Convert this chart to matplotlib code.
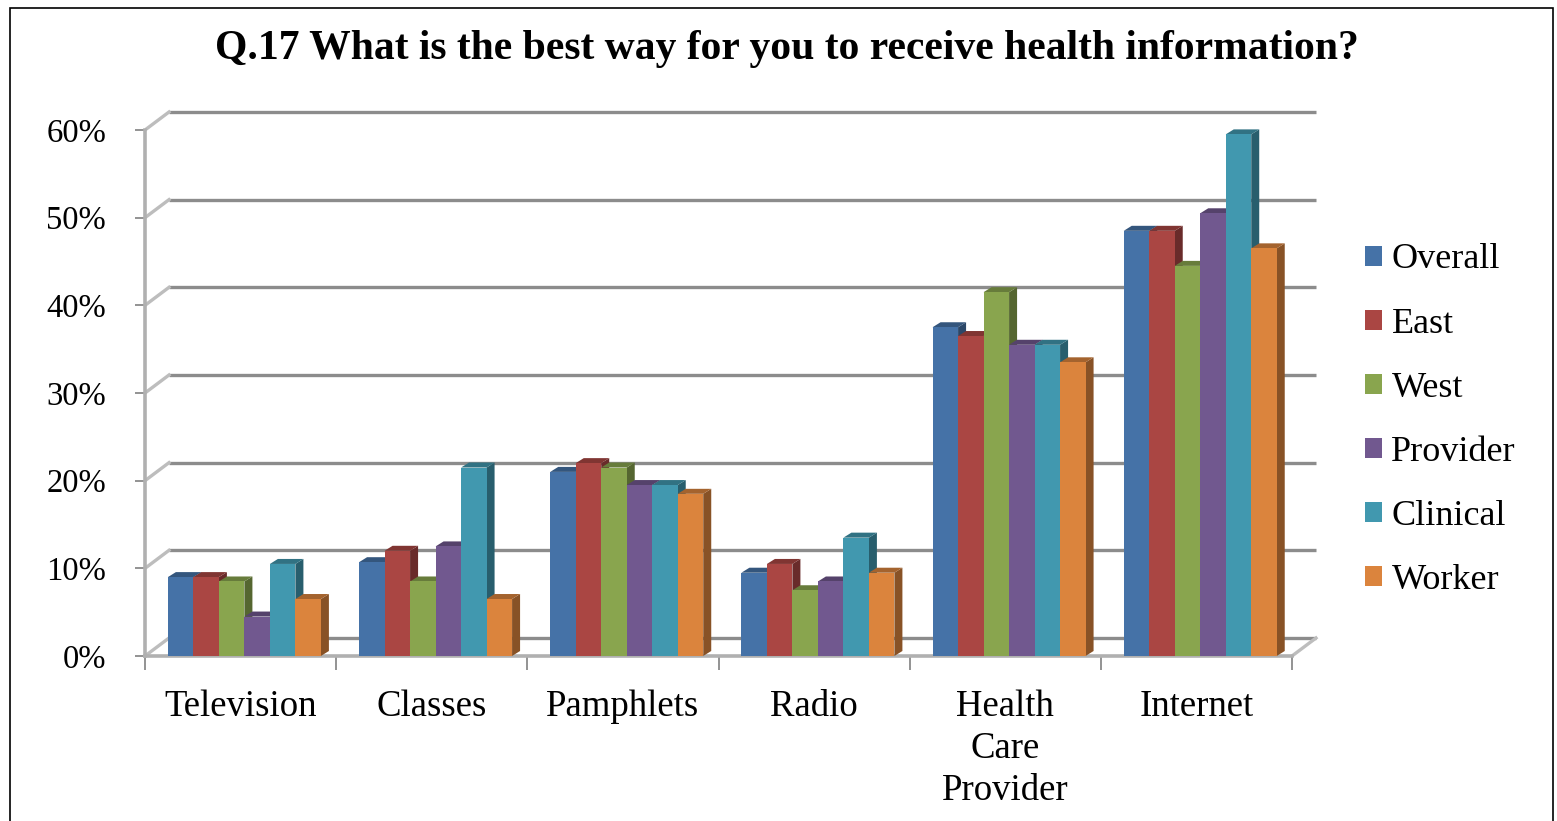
import matplotlib
matplotlib.use("Agg")
import matplotlib.pyplot as plt
from matplotlib.patches import Patch, Polygon, Rectangle
from matplotlib.colors import to_rgb
import numpy as np

# STEP 1: Data (percent of respondents)
categories = ["Television", "Classes", "Pamphlets", "Radio", "Health\nCare\nProvider", "Internet"]
series_names = ["Overall", "East", "West", "Provider", "Clinical", "Worker"]

overall = [9, 10.7, 21, 9.5, 37.5, 48.5]
east = [9, 12, 22, 10.5, 36.5, 48.5]
west = [8.5, 8.5, 21.5, 7.5, 41.5, 44.5]
provider = [4.5, 12.5, 19.5, 8.5, 35.5, 50.5]
clinical = [10.5, 21.5, 19.5, 13.5, 35.5, 59.5]
worker = [6.5, 6.5, 18.5, 9.5, 33.5, 46.5]

y_ticks = [0, 10, 20, 30, 40, 50, 60]
y_tick_labels = ["0%", "10%", "20%", "30%", "40%", "50%", "60%"]

all_series = [overall, east, west, provider, clinical, worker]
colors = ["#4572A7", "#AA4643", "#89A54E", "#71588F", "#4198AF", "#DB843D"]

plt.rcParams["font.family"] = ["Liberation Serif", "DejaVu Serif"]

# STEP 2: Figure and axes (pixel layout of the original)
W, H = 1557, 821
fig = plt.figure(figsize=(W / 100, H / 100), dpi=100)

px_per_cat = (1292 - 145) / 6.0
px_per_pct = (656 - 130) / 60.0
ax_left, ax_right, ax_top, ax_bottom = 145, 1330, 100, 665
ax = fig.add_axes([ax_left / W, (H - ax_bottom) / H,
                   (ax_right - ax_left) / W, (ax_bottom - ax_top) / H])
ax.set_xlim(-0.5, -0.5 + (ax_right - ax_left) / px_per_cat)
ax.set_ylim((656 - ax_bottom) / px_per_pct, (656 - ax_top) / px_per_pct)

# depth of the back wall and of the bars
DX, DY = 24 / px_per_cat, 18 / px_per_pct
bdx, bdy = 8 / px_per_cat, 5 / px_per_pct

# STEP 3: Walls and gridlines
for v in y_ticks:
    ax.plot([-0.5 + DX, 5.5 + DX], [v + DY, v + DY], color="#8c8c8c", lw=2.4,
            zorder=1, solid_capstyle="butt")
    ax.plot([-0.5, -0.5 + DX], [v, v + DY], color="#bdbdbd", lw=2.4, zorder=1)
ax.plot([5.5, 5.5 + DX], [0, DY], color="#bdbdbd", lw=2.4, zorder=1)

for s in ["top", "right"]:
    ax.spines[s].set_visible(False)
ax.spines["left"].set_bounds(0, 60)
ax.spines["left"].set_color("#b0b0b0")
ax.spines["left"].set_linewidth(2.6)
ax.spines["bottom"].set_position(("data", 0))
ax.spines["bottom"].set_bounds(-0.5, 5.5)
ax.spines["bottom"].set_color("#b0b0b0")
ax.spines["bottom"].set_linewidth(2.6)

ax.set_yticks(y_ticks)
ax.set_yticklabels(y_tick_labels, fontsize=23.5)
ax.tick_params(axis="y", length=7, width=1.2, color="#808080", pad=21)

x = np.arange(len(categories))
ax.set_xticks(np.arange(-0.5, 6, 1.0))
ax.set_xticklabels([])
ax.tick_params(axis="x", which="major", length=10, width=1.2, color="#808080")
ax.set_xticks(x, minor=True)
ax.set_xticklabels(categories, minor=True, fontsize=26.5, linespacing=1.28)
ax.tick_params(axis="x", which="minor", length=0, pad=24)

# STEP 4: 3D-looking clustered bars
bar_w = 25.5 / px_per_cat
start = -len(all_series) * bar_w / 2 + 0.02


def shade(c, f):
    r, g, b = to_rgb(c)
    return (r * f, g * f, b * f)


for j, (vals, col) in enumerate(zip(all_series, colors)):
    xs = x + start + j * bar_w
    z = 3 + j
    for xl, v in zip(xs, vals):
        side = Polygon([(xl + bar_w, 0), (xl + bar_w + bdx, bdy),
                        (xl + bar_w + bdx, v + bdy), (xl + bar_w, v)],
                       closed=True, facecolor=shade(col, 0.62), edgecolor="none", zorder=z - 0.5)
        top = Polygon([(xl, v), (xl + bdx, v + bdy), (xl + bar_w + bdx, v + bdy), (xl + bar_w, v)],
                      closed=True, facecolor=shade(col, 0.75), edgecolor="none", zorder=z - 0.5)
        ax.add_patch(side)
        ax.add_patch(top)
    ax.bar(xs, vals, width=bar_w, align="edge", color=col, edgecolor="none", zorder=z)

# STEP 5: Title, legend, border
fig.text(787 / W, 1 - 49 / H, "Q.17 What is the best way for you to receive health information?",
         ha="center", va="center", fontsize=30, fontweight="bold")

handles = [Patch(facecolor=c, edgecolor="none") for c in colors]
fig.legend(handles, series_names, loc="upper left", bbox_to_anchor=(1351 / W, 1 - 229 / H),
           frameon=False, fontsize=26, handlelength=0.47, handleheight=0.47,
           handletextpad=0.25, labelspacing=0.86, borderaxespad=0)

fig.patches.append(Rectangle((10 / W, -0.01), 1543 / W, 1 - 8 / H + 0.01,
                             transform=fig.transFigure, fill=False, edgecolor="black", lw=1.2))

plt.savefig("out.png", dpi=100)
